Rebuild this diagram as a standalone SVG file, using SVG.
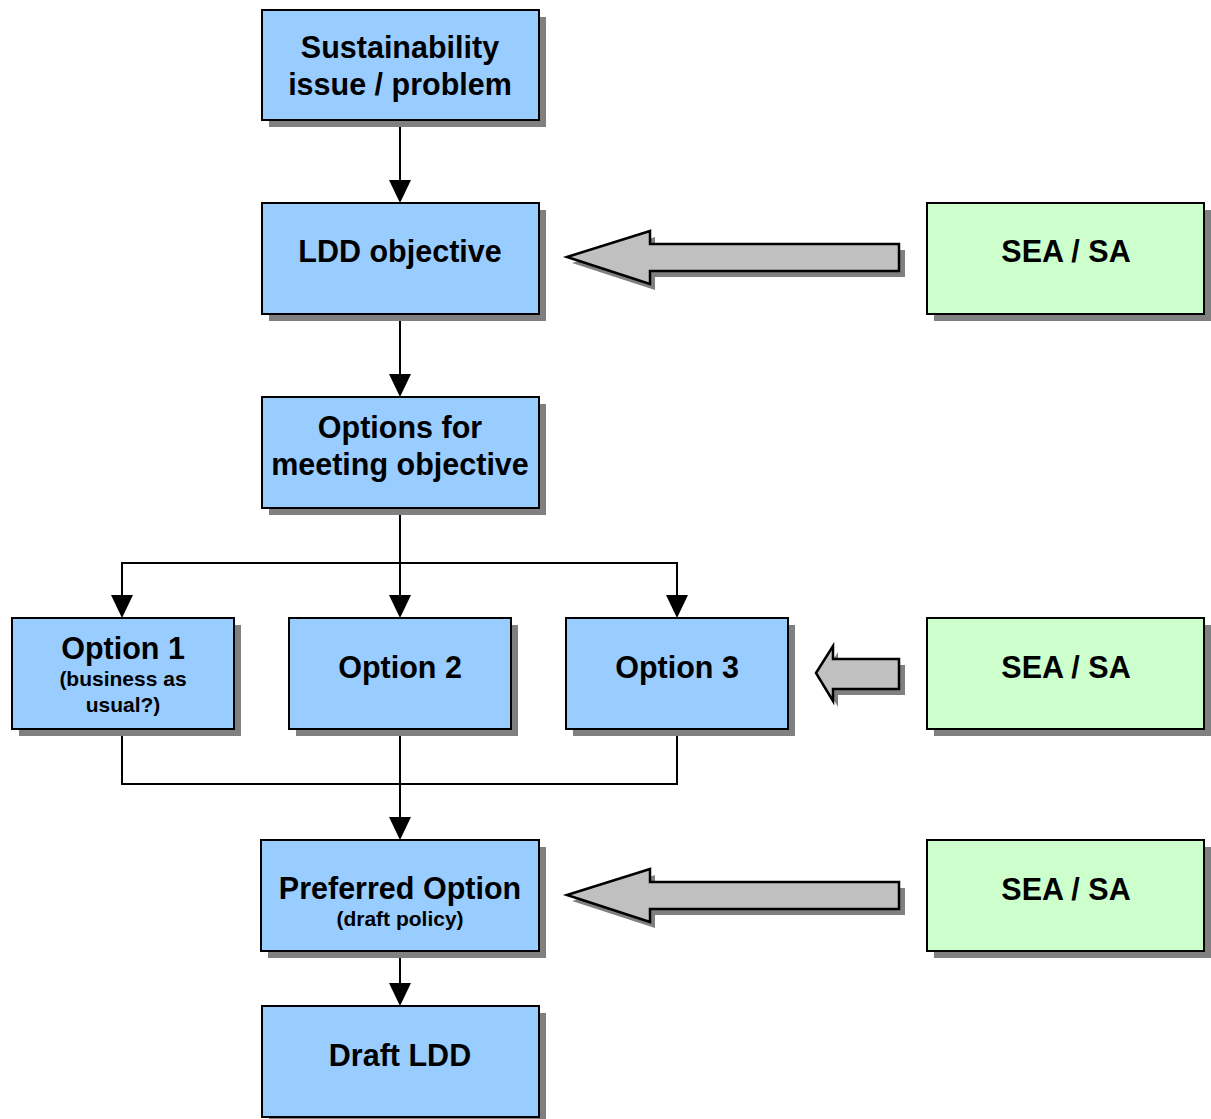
<svg xmlns="http://www.w3.org/2000/svg" width="1211" height="1119" viewBox="0 0 1211 1119">
<defs>
<style>
.box{fill:#99ccff;stroke:#000;stroke-width:2}
.sea{fill:#ccffcc;stroke:#000;stroke-width:2}
.sh{fill:#808080}
.t{font-family:"Liberation Sans",Arial,sans-serif;font-weight:bold;font-size:30.5px;fill:#000;text-anchor:middle}
.s{font-family:"Liberation Sans",Arial,sans-serif;font-weight:bold;font-size:21px;fill:#000;text-anchor:middle}
.c{fill:none;stroke:#000;stroke-width:2}
.ar{fill:#c0c0c0;stroke:#000;stroke-width:2.5;stroke-linejoin:miter}
</style>
</defs>
<rect width="1211" height="1119" fill="#fff"/>
<g id="connectors">
<path class="c" d="M400,120 V180"/><path d="M389,180 L411,180 L400,203 z"/>
<path class="c" d="M400,314 V374"/><path d="M389,374 L411,374 L400,397 z"/>
<path class="c" d="M400,508 V595"/><path d="M389,595 L411,595 L400,618 z"/>
<path class="c" d="M122,595 V563 H677 V595"/>
<path d="M111,595 L133,595 L122,618 z"/>
<path d="M666,595 L688,595 L677,618 z"/>
<path class="c" d="M122,729 V784 H677 V729"/>
<path class="c" d="M400,729 V817"/><path d="M389,817 L411,817 L400,840 z"/>
<path class="c" d="M400,951 V983"/><path d="M389,983 L411,983 L400,1006 z"/>
</g>
<g id="arrow1">
<path class="sh" d="M572,263 L655,237 L655,250 L905,250 L905,277 L655,277 L655,290 z"/>
<path class="ar" d="M567,257 L650,231 L650,244 L899,244 L899,271 L650,271 L650,284 z"/>
</g>
<g id="arrow2">
<path class="sh" d="M821,679 L838,652 L838,665 L905,665 L905,695 L838,695 L838,707 z"/>
<path class="ar" d="M816,673 L833,646 L833,659 L899,659 L899,689 L833,689 L833,701 z"/>
</g>
<g id="arrow3">
<path class="sh" d="M572,901 L655,875 L655,888 L905,888 L905,915 L655,915 L655,928 z"/>
<path class="ar" d="M567,895 L650,869 L650,882 L899,882 L899,909 L650,909 L650,922 z"/>
</g>
<g id="n1"><rect class="sh" x="269" y="17" width="277" height="110"/><rect class="box" x="262" y="10" width="277" height="110"/>
<text class="t" x="400" y="58">Sustainability</text><text class="t" x="400" y="95">issue / problem</text></g>
<g id="n2"><rect class="sh" x="269" y="210" width="277" height="111"/><rect class="box" x="262" y="203" width="277" height="111"/>
<text class="t" x="400" y="262">LDD objective</text></g>
<g id="n3"><rect class="sh" x="269" y="404" width="277" height="111"/><rect class="box" x="262" y="397" width="277" height="111"/>
<text class="t" x="400" y="438">Options for</text><text class="t" x="400" y="475">meeting objective</text></g>
<g id="n4"><rect class="sh" x="19" y="625" width="222" height="111"/><rect class="box" x="12" y="618" width="222" height="111"/>
<text class="t" x="123" y="659">Option 1</text><text class="s" x="123" y="686">(business as</text><text class="s" x="123" y="712">usual?)</text></g>
<g id="n5"><rect class="sh" x="296" y="625" width="222" height="111"/><rect class="box" x="289" y="618" width="222" height="111"/>
<text class="t" x="400" y="678">Option 2</text></g>
<g id="n6"><rect class="sh" x="573" y="625" width="222" height="111"/><rect class="box" x="566" y="618" width="222" height="111"/>
<text class="t" x="677" y="678">Option 3</text></g>
<g id="n7"><rect class="sh" x="268" y="847" width="278" height="111"/><rect class="box" x="261" y="840" width="278" height="111"/>
<text class="t" x="400" y="899">Preferred Option</text><text class="s" x="400" y="926">(draft policy)</text></g>
<g id="n8"><rect class="sh" x="269" y="1013" width="277" height="111"/><rect class="box" x="262" y="1006" width="277" height="111"/>
<text class="t" x="400" y="1066">Draft LDD</text></g>
<g id="sea1"><rect class="sh" x="934" y="210" width="277" height="111"/><rect class="sea" x="927" y="203" width="277" height="111"/>
<text class="t" x="1066" y="262">SEA / SA</text></g>
<g id="sea2"><rect class="sh" x="934" y="625" width="277" height="111"/><rect class="sea" x="927" y="618" width="277" height="111"/>
<text class="t" x="1066" y="678">SEA / SA</text></g>
<g id="sea3"><rect class="sh" x="934" y="847" width="277" height="111"/><rect class="sea" x="927" y="840" width="277" height="111"/>
<text class="t" x="1066" y="900">SEA / SA</text></g>
</svg>
